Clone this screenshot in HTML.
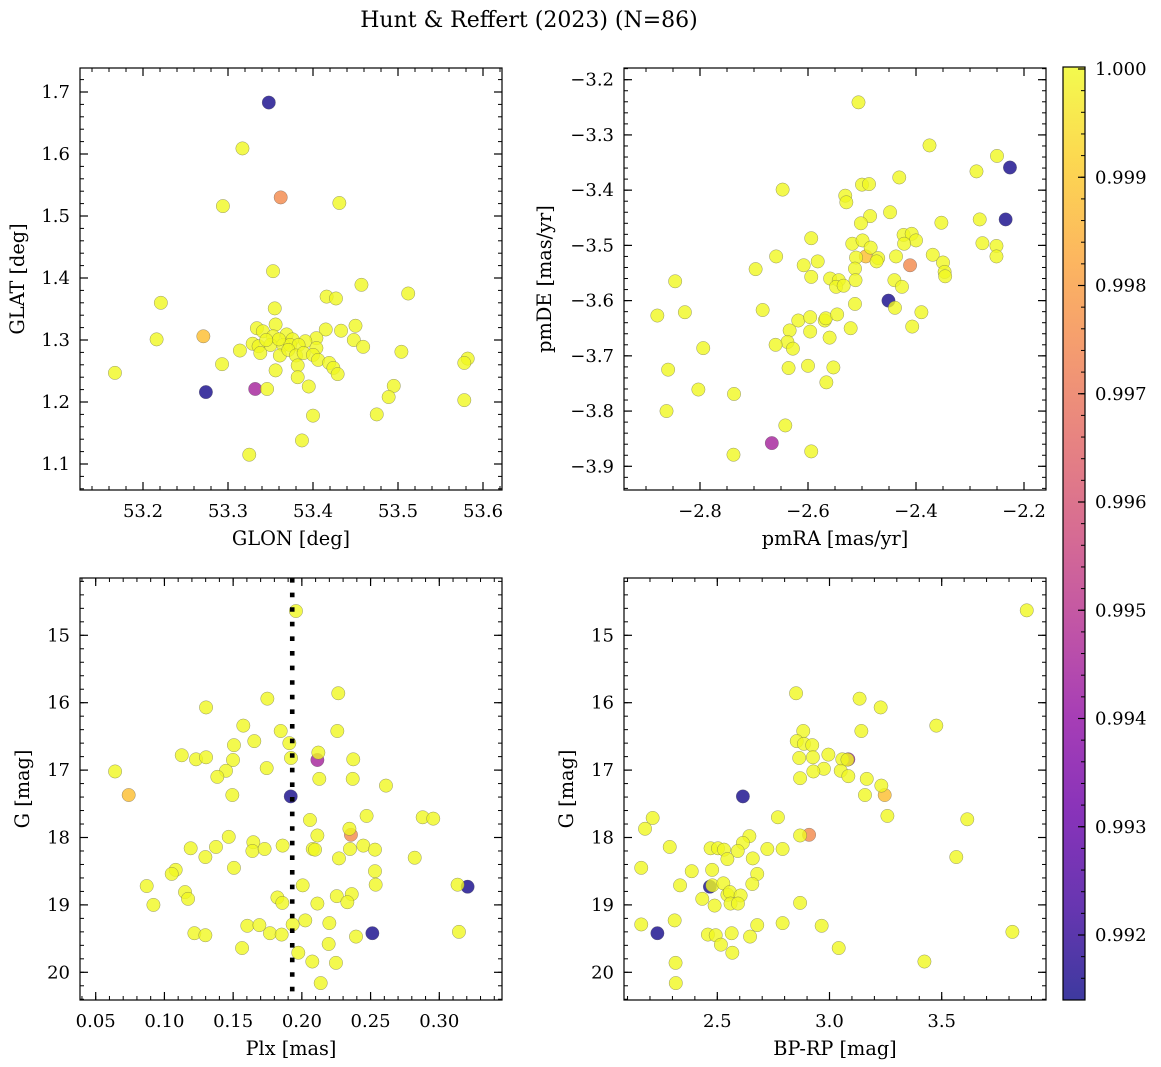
<!DOCTYPE html>
<html><head><meta charset="utf-8"><title>Hunt & Reffert (2023)</title>
<style>
html,body{margin:0;padding:0;background:#fff;}
svg{display:block;font-family:"DejaVu Serif","Liberation Serif",serif;}
</style></head>
<body>
<svg id="fig" width="1161" height="1067" viewBox="0 0 1161 1067" xmlns="http://www.w3.org/2000/svg">
<defs>
<linearGradient id="plasma" x1="0" y1="1" x2="0" y2="0">
<stop offset="0" stop-color="#0d0887"/><stop offset="0.1" stop-color="#41049d"/><stop offset="0.2" stop-color="#6a00a8"/><stop offset="0.3" stop-color="#8f0da4"/><stop offset="0.4" stop-color="#b12a90"/><stop offset="0.5" stop-color="#cc4778"/><stop offset="0.6" stop-color="#e16462"/><stop offset="0.7" stop-color="#f2844b"/><stop offset="0.8" stop-color="#fca636"/><stop offset="0.9" stop-color="#fcce25"/><stop offset="1" stop-color="#f0f921"/>
</linearGradient>
</defs>
<text x="529" y="27" text-anchor="middle" font-size="22">Hunt &amp; Reffert (2023) (N=86)</text>
</svg>
<script>
// ---------- data ----------
const p1Glon = [53.348,53.274,53.332,53.362,53.271,
53.317,53.294,53.431,53.353,53.457,53.512,53.416,53.427,53.221,53.355,
53.334,53.356,53.341,53.415,53.433,53.450,53.216,53.369,53.376,53.353,
53.404,53.391,53.329,53.336,53.350,53.365,53.373,53.383,53.404,53.448,
53.459,53.504,53.314,53.338,53.361,53.371,53.380,53.389,53.400,53.406,
53.419,53.293,53.382,53.582,53.578,53.167,53.356,53.424,53.429,53.382,
53.395,53.346,53.495,53.489,53.578,53.400,53.475,53.387,53.325,53.360,53.345];
const p1Glat = [1.683,1.216,1.221,1.530,1.306,
1.609,1.516,1.521,1.411,1.389,1.375,1.370,1.367,1.360,1.351,
1.319,1.325,1.314,1.317,1.315,1.323,1.301,1.309,1.301,1.306,
1.303,1.298,1.294,1.290,1.292,1.292,1.292,1.292,1.287,1.300,
1.289,1.281,1.283,1.279,1.275,1.284,1.275,1.279,1.276,1.268,
1.263,1.261,1.259,1.270,1.263,1.247,1.251,1.255,1.245,1.240,
1.225,1.221,1.226,1.208,1.203,1.178,1.180,1.138,1.115,1.301,1.300];
const p1Prob = [0.9915,0.9915,0.9945,0.9975,0.9988,
1,1,1,1,1,1,1,1,1,1, 1,1,1,1,1,1,1,1,1,1, 1,1,1,1,1,1,1,1,1,1,
1,1,1,1,1,1,1,1,1,1, 1,1,1,1,1,1,1,1,1,1, 1,1,1,1,1,1,1,1,1,1, 1];

const p2Pmra = [-2.226,-2.234,-2.451,-2.667,-2.411,-2.493,
-2.5065,-2.375,-2.250,-2.288,-2.431,-2.500,-2.487,-2.647,-2.531,-2.529,
-2.448,-2.485,-2.502,-2.353,-2.282,-2.594,-2.518,-2.499,-2.484,-2.423,
-2.408,-2.400,-2.422,-2.277,-2.251,-2.251,-2.659,-2.511,-2.470,-2.473,
-2.437,-2.369,-2.350,-2.347,-2.346,-2.697,-2.608,-2.582,-2.594,-2.513,
-2.559,-2.543,-2.548,-2.534,-2.512,-2.440,-2.426,-2.846,-2.439,-2.390,
-2.407,-2.513,-2.879,-2.828,-2.684,-2.618,-2.596,-2.569,-2.567,-2.546,
-2.521,-2.560,-2.596,-2.634,-2.638,-2.660,-2.628,-2.794,-2.859,-2.636,
-2.600,-2.553,-2.566,-2.803,-2.737,-2.862,-2.642,-2.738,-2.594];
const p2Pmde = [-3.359,-3.453,-3.600,-3.858,-3.536,-3.520,
-3.241,-3.319,-3.338,-3.366,-3.377,-3.390,-3.389,-3.399,-3.410,-3.422,
-3.440,-3.447,-3.460,-3.459,-3.453,-3.487,-3.497,-3.491,-3.504,-3.481,
-3.479,-3.491,-3.497,-3.496,-3.501,-3.520,-3.520,-3.522,-3.523,-3.529,
-3.520,-3.517,-3.531,-3.548,-3.556,-3.543,-3.536,-3.529,-3.557,-3.542,
-3.560,-3.563,-3.575,-3.573,-3.563,-3.563,-3.575,-3.565,-3.613,-3.621,
-3.647,-3.606,-3.627,-3.621,-3.617,-3.636,-3.630,-3.636,-3.632,-3.625,
-3.650,-3.667,-3.656,-3.654,-3.675,-3.680,-3.687,-3.686,-3.725,-3.722,
-3.718,-3.721,-3.748,-3.761,-3.769,-3.800,-3.826,-3.879,-3.873];
const p2Prob = [0.9915,0.9915,0.9915,0.9945,0.9975,0.9988,
1,1,1,1,1,1,1,1,1,1, 1,1,1,1,1,1,1,1,1,1, 1,1,1,1,1,1,1,1,1,1,
1,1,1,1,1,1,1,1,1,1, 1,1,1,1,1,1,1,1,1,1, 1,1,1,1,1,1,1,1,1,1,
1,1,1,1,1,1,1,1,1,1, 1,1,1,1,1,1,1,1,1];

const p3Plx = [0.1919,0.3206,0.2513,0.2113,0.2357,0.0740,
0.1957,0.2265,0.1749,0.1303,0.1574,0.1846,0.2258,0.1654,0.1506,0.1909,
0.1126,0.1230,0.1303,0.1499,0.1921,0.2120,0.2374,0.0641,0.1448,0.1385,
0.1744,0.2127,0.2370,0.2612,0.1494,0.2059,0.2471,0.2879,0.2956,0.1468,
0.1647,0.2113,0.2346,0.1191,0.1375,0.1298,0.1640,0.1729,0.1860,0.2079,
0.2096,0.2270,0.2350,0.2447,0.2532,0.2821,0.1506,0.1082,0.1053,0.2532,
0.2537,0.0871,0.3133,0.2006,0.1150,0.1172,0.1822,0.1858,0.2113,0.2254,
0.2363,0.2331,0.0920,0.2025,0.2200,0.1603,0.1691,0.1933,0.1768,0.1853,
0.1218,0.1298,0.2394,0.3143,0.1565,0.2195,0.1974,0.2076,0.2248,0.2137];
const p3G = [17.39,18.73,19.42,16.85,17.96,17.37,
14.64,15.86,15.94,16.07,16.34,16.42,16.42,16.57,16.63,16.60,
16.78,16.84,16.81,16.85,16.82,16.74,16.84,17.02,17.01,17.10,
16.97,17.13,17.13,17.23,17.37,17.74,17.68,17.70,17.72,17.99,
18.07,17.97,17.87,18.16,18.14,18.29,18.20,18.17,18.12,18.17,
18.18,18.31,18.17,18.12,18.18,18.30,18.45,18.48,18.54,18.50,
18.70,18.72,18.70,18.71,18.81,18.91,18.89,18.97,18.98,18.87,
18.84,18.96,19.00,19.23,19.27,19.31,19.30,19.29,19.42,19.44,
19.42,19.45,19.47,19.40,19.64,19.58,19.71,19.84,19.86,20.16];
const p3Prob = [0.9915,0.9915,0.9915,0.9945,0.9975,0.9988,
1,1,1,1,1,1,1,1,1,1, 1,1,1,1,1,1,1,1,1,1, 1,1,1,1,1,1,1,1,1,1,
1,1,1,1,1,1,1,1,1,1, 1,1,1,1,1,1,1,1,1,1, 1,1,1,1,1,1,1,1,1,1,
1,1,1,1,1,1,1,1,1,1, 1,1,1,1,1,1,1,1,1,1];

const p4Bprp = [2.614,2.467,2.233,3.084,2.909,3.246,
3.879,2.851,3.134,3.228,3.476,3.142,2.883,2.854,2.886,2.923,
2.865,2.926,2.995,3.057,2.975,2.928,3.050,2.869,3.084,3.166,
3.231,3.158,3.258,3.614,2.212,2.178,2.770,2.869,2.643,2.614,
2.288,2.470,2.503,2.530,2.591,2.723,2.791,2.545,2.658,3.565,
2.161,2.386,2.477,2.678,2.334,2.478,2.527,2.656,2.545,2.556,
2.604,2.433,2.488,2.559,2.592,2.869,2.161,2.310,2.678,2.791,
2.965,2.458,2.493,2.564,2.646,2.516,3.041,3.815,2.314,2.567,
3.423,2.315,3.080];
const p4G = [17.39,18.73,19.42,16.84,17.96,17.37,
14.63,15.86,15.94,16.07,16.34,16.42,16.42,16.57,16.61,16.63,
16.82,16.81,16.77,16.84,16.98,17.02,17.01,17.12,17.09,17.13,
17.23,17.37,17.68,17.73,17.71,17.87,17.70,17.97,17.98,18.08,
18.14,18.16,18.16,18.18,18.20,18.17,18.17,18.32,18.31,18.29,
18.45,18.50,18.48,18.54,18.71,18.71,18.68,18.69,18.85,18.81,
18.86,18.91,19.01,18.98,18.98,18.97,19.29,19.23,19.30,19.27,
19.31,19.44,19.45,19.42,19.47,19.59,19.64,19.40,19.86,19.71,
19.84,20.16,16.845];
const p4Prob = [0.9915,0.9915,0.9915,0.9945,0.9975,0.9988,
1,1,1,1,1,1,1,1,1,1, 1,1,1,1,1,1,1,1,1,1, 1,1,1,1,1,1,1,1,1,1,
1,1,1,1,1,1,1,1,1,1, 1,1,1,1,1,1,1,1,1,1, 1,1,1,1,1,1,1,1,1,1,
1,1,1,1,1,1,1,1,1,1, 1,1,1];

const glonTicks = [53.2,53.3,53.4,53.5,53.6];
const glatTicks = [1.1,1.2,1.3,1.4,1.5,1.6,1.7];
const pmraTicks = [-2.8,-2.6,-2.4,-2.2];
const pmdeTicks = [-3.9,-3.8,-3.7,-3.6,-3.5,-3.4,-3.3,-3.2];
const plxTicks = [0.05,0.10,0.15,0.20,0.25,0.30];
const gTicks = [15,16,17,18,19,20];
const bprpTicks = [2.5,3.0,3.5];
const cbarTicks = [0.992,0.993,0.994,0.995,0.996,0.997,0.998,0.999,1.000];
const plxReference = [0.193];

// ---------- helpers ----------
const NS = 'http://www.w3.org/2000/svg';
const svg = document.getElementById('fig');
const TICKFS = 18, LABELFS = 19.3;
function mk(tag, attrs, parent){
  const e = document.createElementNS(NS, tag);
  for (const k in attrs) e.setAttribute(k, attrs[k]);
  (parent||svg).appendChild(e);
  return e;
}
function lin(v1,p1,v2,p2){ const s=(p2-p1)/(v2-v1); const f=v=>p1+(v-v1)*s; f.inv=p=>v1+(p-p1)/s; return f; }
const stops = [[13,8,135],[65,4,157],[106,0,168],[143,13,164],[177,42,144],[204,71,120],[225,100,98],[242,132,75],[252,166,54],[252,206,37],[240,249,33]];
const vmin = 0.99140, vmax = 1.0000185;
function plasma(p){
  let t = (p - vmin)/(vmax - vmin); t = Math.max(0, Math.min(1, t));
  const x = t*10, i = Math.min(9, Math.floor(x)), f = x - i;
  const a = stops[i], b = stops[i+1];
  return 'rgb(' + [0,1,2].map(k=>Math.round(a[k]+(b[k]-a[k])*f)).join(',') + ')';
}
function fmt(v, d){ const s = Math.abs(v).toFixed(d); return (v<0?'\u2212':'') + s; }

function panel(cfg){
  const {name,x0,x1,y0,y1,sx,sy,xt,yt,xd,yd,xminor,yminor,xlabel,ylabel,ylabelX,xs,ys,ps} = cfg;
  const g = mk('g', {});
  
  
  const pts = mk('g', {}, g);
  
  
  for (let i=0;i<xs.length;i++){
    const c = mk('circle', {cx:sx(xs[i]).toFixed(2), cy:sy(ys[i]).toFixed(2), r:6.7, fill:plasma(ps[i]), 'fill-opacity':0.8, stroke:'#555', 'stroke-opacity':0.6, 'stroke-width':0.5}, pts);
    
    
  }
  if (cfg.extra) cfg.extra(g);
  const fr = mk('rect', {x:x0, y:y0, width:x1-x0, height:y1-y0, fill:'none', stroke:'#000', 'stroke-width':1.2}, g);
  
  
  const xa = mk('g', {}, g);
  
  
  const vlo = sx.inv(x0), vhi = sx.inv(x1);
  for (let k=Math.ceil(vlo/xminor-1e-6); k*xminor<=vhi+1e-9; k++){
    const px = sx(k*xminor);
    if (px < x0-0.5 || px > x1+0.5) continue;
    mk('line',{x1:px,x2:px,y1:y1,y2:y1-4,stroke:'#000','stroke-width':1},xa);
    mk('line',{x1:px,x2:px,y1:y0,y2:y0+4,stroke:'#000','stroke-width':1},xa);
  }
  xt.forEach(v=>{
    const px = sx(v);
    mk('line',{x1:px,x2:px,y1:y1,y2:y1-8,stroke:'#000','stroke-width':1.2},xa);
    mk('line',{x1:px,x2:px,y1:y0,y2:y0+8,stroke:'#000','stroke-width':1.2},xa);
    const t = mk('text',{x:px, y:y1+27, 'text-anchor':'middle','font-size':TICKFS},xa);
    t.textContent = fmt(v, xd);
    
    
  });
  const xl = mk('text',{x:(x0+x1)/2, y:y1+55, 'text-anchor':'middle','font-size':LABELFS},g);
  xl.textContent = xlabel;
  
  
  const ya = mk('g', {}, g);
  
  
  const a = sy.inv(y0), b = sy.inv(y1);
  const ylo = Math.min(a,b), yhi = Math.max(a,b);
  for (let k=Math.ceil(ylo/yminor-1e-6); k*yminor<=yhi+1e-9; k++){
    const py = sy(k*yminor);
    if (py < y0-0.5 || py > y1+0.5) continue;
    mk('line',{x1:x0,x2:x0+4,y1:py,y2:py,stroke:'#000','stroke-width':1},ya);
    mk('line',{x1:x1,x2:x1-4,y1:py,y2:py,stroke:'#000','stroke-width':1},ya);
  }
  yt.forEach(v=>{
    const py = sy(v);
    mk('line',{x1:x0,x2:x0+8,y1:py,y2:py,stroke:'#000','stroke-width':1.2},ya);
    mk('line',{x1:x1,x2:x1-8,y1:py,y2:py,stroke:'#000','stroke-width':1.2},ya);
    const t = mk('text',{x:x0-10, y:py+6, 'text-anchor':'end','font-size':TICKFS},ya);
    t.textContent = fmt(v, yd);
    
    
  });
  const cy = (y0+y1)/2;
  const yl = mk('text',{x:ylabelX, y:cy, 'text-anchor':'middle','font-size':LABELFS, transform:'rotate(-90 '+ylabelX+' '+cy+')'},g);
  yl.textContent = ylabel;
  
  
}

panel({name:'glon-glat-panel', x0:80,x1:502,y0:68,y1:490,
  sx:lin(53.2,143,53.6,483), sy:lin(1.7,92,1.1,464),
  xt:glonTicks, yt:glatTicks, xd:1, yd:1, xminor:0.02, yminor:0.02,
  xlabel:'GLON [deg]', ylabel:'GLAT [deg]', ylabelX:24,
  xs:p1Glon, ys:p1Glat, ps:p1Prob});

panel({name:'pmra-pmde-panel', x0:624,x1:1046,y0:68,y1:490,
  sx:lin(-2.8,700,-2.2,1024), sy:lin(-3.2,79.7,-3.9,466.3),
  xt:pmraTicks, yt:pmdeTicks, xd:1, yd:1, xminor:0.05, yminor:0.02,
  xlabel:'pmRA [mas/yr]', ylabel:'pmDE [mas/yr]', ylabelX:551,
  xs:p2Pmra, ys:p2Pmde, ps:p2Prob});

const sxPlx = lin(0.05,95.7,0.30,439.3);
panel({name:'plx-g-panel', x0:80,x1:502,y0:578,y1:1000,
  sx:sxPlx, sy:lin(15,635.3,20,972.3),
  xt:plxTicks, yt:gTicks, xd:2, yd:0, xminor:0.01, yminor:0.2,
  xlabel:'Plx [mas]', ylabel:'G [mag]', ylabelX:29,
  xs:p3Plx, ys:p3G, ps:p3Prob,
  extra:function(g){
    plxReference.forEach(v=>{
      const l = mk('line',{x1:sxPlx(v),x2:sxPlx(v),y1:578,y2:1000,stroke:'#000','stroke-width':4.6,'stroke-dasharray':'4.6 10'},g);
      
      
    });
  }});

panel({name:'cmd-panel', x0:624,x1:1046,y0:578,y1:1000,
  sx:lin(2.5,717.3,3.5,941.7), sy:lin(15,635.3,20,972.3),
  xt:bprpTicks, yt:gTicks, xd:1, yd:0, xminor:0.1, yminor:0.2,
  xlabel:'BP-RP [mag]', ylabel:'G [mag]', ylabelX:573,
  xs:p4Bprp, ys:p4G, ps:p4Prob});

(function(){
  const cx0=1063, cx1=1085, cy0=67, cy1=1000;
  const sc = lin(1.000,69,0.992,935);
  const g = mk('g',{});
  
  
  const r = mk('rect',{x:cx0,y:cy0,width:cx1-cx0,height:cy1-cy0,fill:'url(#plasma)','fill-opacity':0.8},g);
  
  
  const fr = mk('rect',{x:cx0,y:cy0,width:cx1-cx0,height:cy1-cy0,fill:'none',stroke:'#000','stroke-width':1.2},g);
  
  
  for (let k=Math.ceil(0.9914/0.0002); k*0.0002<=1.00002; k++){
    const py = sc(k*0.0002);
    if (py<cy0||py>cy1) continue;
    mk('line',{x1:cx1,x2:cx1-4,y1:py,y2:py,stroke:'#000','stroke-width':1},g);
  }
  cbarTicks.forEach(v=>{
    const py = sc(v);
    mk('line',{x1:cx1,x2:cx1-7,y1:py,y2:py,stroke:'#000','stroke-width':1.2},g);
    const t = mk('text',{x:cx1+10,y:py+6,'font-size':TICKFS},g);
    t.textContent = v.toFixed(3);
    
    
  });
})();
</script>
</body></html>
